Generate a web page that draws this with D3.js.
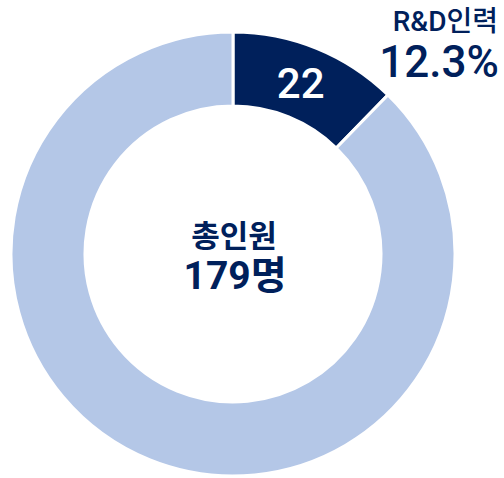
<!DOCTYPE html>
<html>
<head>
<meta charset="utf-8">
<script src="https://cdn.jsdelivr.net/npm/d3@7"></script>
<style>
  body { margin: 0; background: #fff; }
  text { font-family: Roboto, "Noto Sans CJK KR", sans-serif; }
</style>
</head>
<body>
<div id="chart"></div>
<script>
// data
var categories = ["R&D인력", "기타"];
var values = [22, 157];
var colors = ["#00205B", "#B4C7E7"];
var totalLabel = "총인원";
var unit = "명";

var width = 504, height = 478;
var cx = 233, cy = 254;
var outerR = 222, innerR = 148;

var total = d3.sum(values);

var svg = d3.select("#chart")
  .append("svg")
  .attr("width", width)
  .attr("height", height);

var g = svg.append("g").attr("transform", "translate(" + cx + "," + cy + ")");

var pie = d3.pie().sort(null).value(function(d) { return d; });
var arc = d3.arc().innerRadius(innerR).outerRadius(outerR);

var arcs = pie(values);

g.selectAll(".slice")
  .data(arcs)
  .enter().append("path")
  .attr("class", "slice")
  .attr("d", arc)
  .attr("fill", function(d, i) { return colors[i]; })
  .attr("stroke", "#fff")
  .attr("stroke-width", 3);

// value label inside the dark slice
var c = arc.centroid(arcs[0]);
g.append("text")
  .attr("x", c[0] - 2)
  .attr("y", c[1] + 15)
  .attr("text-anchor", "middle")
  .attr("fill", "#fff")
  .style("font-size", "42px")
  .style("font-weight", 500)
  .text(values[0]);

// outside label, top right
svg.append("text")
  .attr("x", 498)
  .attr("y", 31)
  .attr("text-anchor", "end")
  .attr("fill", "#00205B")
  .style("font-size", "28px")
  .style("font-weight", 500)
  .text(categories[0]);

svg.append("text")
  .attr("x", 499)
  .attr("y", 77)
  .attr("text-anchor", "end")
  .attr("fill", "#00205B")
  .style("font-size", "44px")
  .style("font-weight", 500)
  .text(d3.format(".1%")(values[0] / total));

// center labels
g.append("text")
  .attr("x", 1)
  .attr("y", -7)
  .attr("text-anchor", "middle")
  .attr("fill", "#00205B")
  .style("font-size", "31px")
  .style("font-weight", "bold")
  .text(totalLabel);

g.append("text")
  .attr("x", 2)
  .attr("y", 35)
  .attr("text-anchor", "middle")
  .attr("fill", "#00205B")
  .style("font-size", "39px")
  .style("font-weight", "bold")
  .text(total + unit);
</script>
</body>
</html>
